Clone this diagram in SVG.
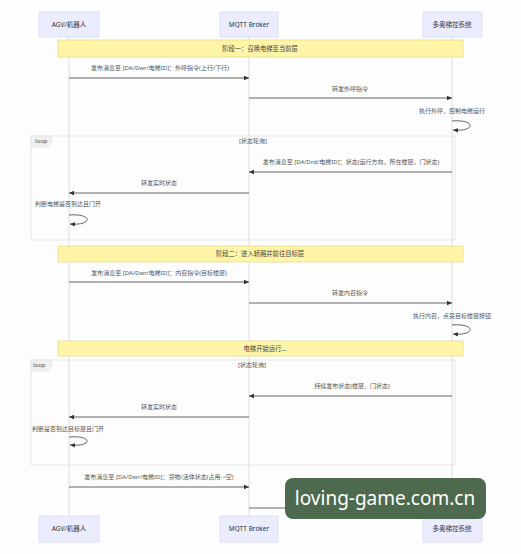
<svg xmlns="http://www.w3.org/2000/svg" width="521" height="554" viewBox="0 0 521 554">
<defs>
<style>
.actor{fill:#ececff;stroke:#dcdcf5;stroke-width:0.8}
.atext{font-family:"Noto Sans","Noto Sans CJK SC",sans-serif;font-size:6.5px;fill:#333;text-anchor:middle}
.life{stroke:#dcdcdc;stroke-width:1}
.note{fill:#fff5a8;stroke:#e3dc8c;stroke-width:0.8}
.ntext{font-family:"Noto Sans","Noto Sans CJK SC",sans-serif;font-size:6.3px;fill:#444;text-anchor:middle}
.msg{stroke:#555;stroke-width:0.9;fill:none}
.mtext{font-family:"Noto Sans","Noto Sans CJK SC",sans-serif;font-size:6px;fill:#555;text-anchor:middle}
.ltext{font-family:"Noto Sans","Noto Sans CJK SC",sans-serif;font-size:6px;fill:#555}
.loop{fill:none;stroke:#e2e2e2;stroke-width:0.8}
.loopl{fill:#f0f0f0;stroke:#e2e2e2;stroke-width:0.6}
</style>
<marker id="ah" markerWidth="6" markerHeight="6" refX="5" refY="3" orient="auto" markerUnits="userSpaceOnUse">
<path d="M0,0.8 L5,3 L0,5.2 z" fill="#333"/>
</marker>
</defs>
<rect width="521" height="554" fill="#fdfdfd"/>

<g id="lifelines">
<line class="life" x1="69" y1="37" x2="69" y2="516"/>
<line class="life" x1="249" y1="37" x2="249" y2="516"/>
<line class="life" x1="452" y1="37" x2="452" y2="516"/>
</g>

<g id="loop1">
<rect class="loop" x="31" y="136" width="424" height="104"/>
<path class="loopl" d="M31,136 H52 V143 L48,147 H31 z"/>
<text class="ltext" x="35" y="143">loop</text>
<text class="mtext" x="253" y="143">[状态轮询]</text>
</g>
<g id="loop2">
<rect class="loop" x="31" y="360" width="424" height="105"/>
<path class="loopl" d="M31,360 H52 V367 L48,371 H31 z"/>
<text class="ltext" x="33" y="367">loop</text>
<text class="mtext" x="252" y="367">[状态轮询]</text>
</g>

<g id="actor-agv-top"><rect class="actor" x="39" y="12" width="60" height="25"/><text class="atext" x="69" y="27">AGV/机器人</text></g>
<g id="actor-mqtt-top"><rect class="actor" x="220" y="12" width="58" height="25"/><text class="atext" x="249" y="27">MQTT Broker</text></g>
<g id="actor-sys-top"><rect class="actor" x="423" y="12" width="59" height="25"/><text class="atext" x="452" y="27">多奥梯控系统</text></g>

<g id="note1"><rect class="note" x="58" y="40" width="405" height="17"/><text class="ntext" x="260" y="51">阶段一：召唤电梯至当前层</text></g>
<g id="note2"><rect class="note" x="58" y="246" width="405" height="16"/><text class="ntext" x="260" y="256">阶段二：进入轿厢并前往目标层</text></g>
<g id="note3"><rect class="note" x="58" y="341" width="405" height="15"/><text class="ntext" x="265" y="351">电梯开始运行...</text></g>

<g id="connectors">
<line class="msg" x1="69" y1="78" x2="249" y2="78" marker-end="url(#ah)"/>
<line class="msg" x1="249" y1="98" x2="452" y2="98" marker-end="url(#ah)"/>
<path class="msg" d="M452,121 C476,119 476,132 453,130" marker-end="url(#ah)"/>
<line class="msg" x1="452" y1="172" x2="249" y2="172" marker-end="url(#ah)"/>
<line class="msg" x1="249" y1="193" x2="69" y2="193" marker-end="url(#ah)"/>
<path class="msg" d="M69,215 C93,213 93,226 70,224" marker-end="url(#ah)"/>
<line class="msg" x1="69" y1="282" x2="249" y2="282" marker-end="url(#ah)"/>
<line class="msg" x1="249" y1="303" x2="452" y2="303" marker-end="url(#ah)"/>
<path class="msg" d="M452,325 C476,323 476,336 453,334" marker-end="url(#ah)"/>
<line class="msg" x1="452" y1="396" x2="249" y2="396" marker-end="url(#ah)"/>
<line class="msg" x1="249" y1="417" x2="69" y2="417" marker-end="url(#ah)"/>
<path class="msg" d="M69,437 C93,435 93,447 70,445" marker-end="url(#ah)"/>
<line class="msg" x1="69" y1="487" x2="249" y2="487" marker-end="url(#ah)"/>
<line class="msg" x1="249" y1="508" x2="452" y2="508" marker-end="url(#ah)"/>
</g>

<g id="labels">
<text class="mtext" x="160" y="70">发布消息至 [DA/Dwr/电梯ID]：外呼指令(上行/下行)</text>
<text class="mtext" x="350" y="91">转发外呼指令</text>
<text class="mtext" x="452" y="113">执行外呼，控制电梯运行</text>
<text class="mtext" x="351" y="164">发布消息至 [DA/Drd/电梯ID]：状态(运行方向，所在楼层，门状态)</text>
<text class="mtext" x="159" y="185">转发实时状态</text>
<text class="ltext" x="35" y="206">判断电梯是否到达且门开</text>
<text class="mtext" x="159" y="275">发布消息至 [DA/Dwr/电梯ID]：内召指令(目标楼层)</text>
<text class="mtext" x="350" y="295">转发内召指令</text>
<text class="mtext" x="452" y="318">执行内召，点亮目标楼层按钮</text>
<text class="mtext" x="352" y="388">持续发布状态(楼层，门状态)</text>
<text class="mtext" x="159" y="409">转发实时状态</text>
<text class="ltext" x="32" y="431">判断是否到达目标层且门开</text>
<text class="mtext" x="159" y="479">发布消息至 [DA/Dwr/电梯ID]：货物/活体状态(占用->空)</text>
</g>

<g id="actor-agv-bottom"><rect class="actor" x="39" y="516" width="60" height="26"/><text class="atext" x="69" y="531">AGV/机器人</text></g>
<g id="actor-mqtt-bottom"><rect class="actor" x="220" y="516" width="58" height="26"/><text class="atext" x="249" y="531">MQTT Broker</text></g>
<g id="actor-sys-bottom"><rect class="actor" x="423" y="516" width="59" height="26"/><text class="atext" x="452" y="531">多奥梯控系统</text></g>

<g id="watermark">
<rect x="285" y="478" width="201" height="41" rx="8" fill="#4d6a4f"/>
<text x="385" y="505" font-family="Noto Sans, sans-serif" font-size="19" fill="#ffffff" text-anchor="middle">loving-game.com.cn</text>
</g>
</svg>
